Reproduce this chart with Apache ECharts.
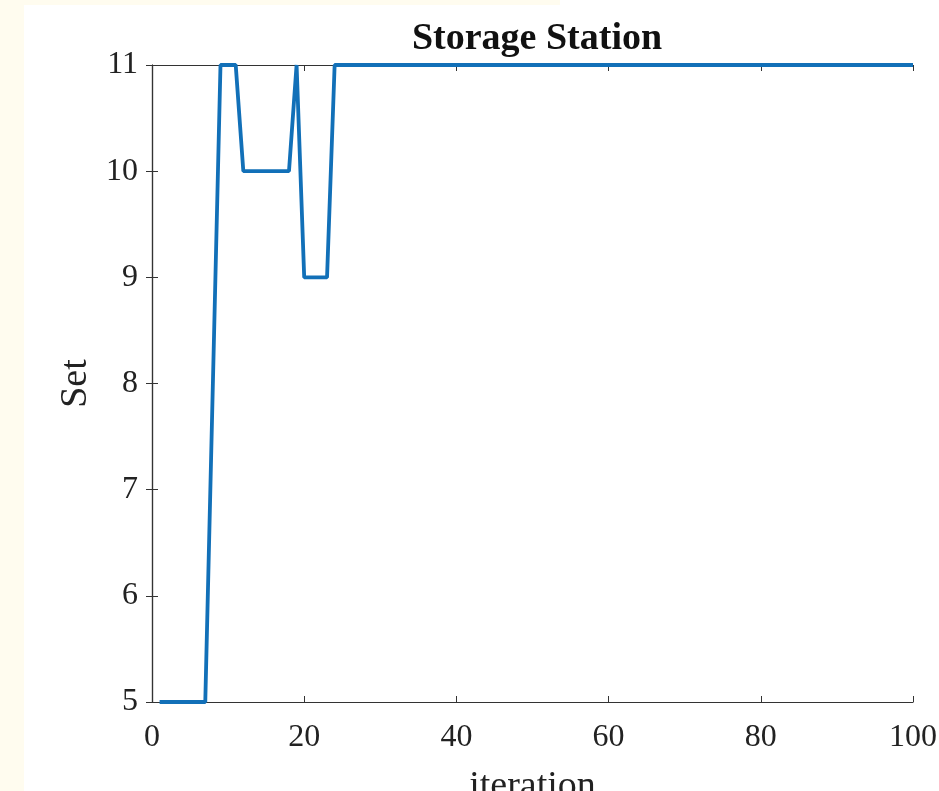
<!DOCTYPE html>
<html>
<head>
<meta charset="utf-8">
<script src="https://cdn.jsdelivr.net/npm/echarts@6/dist/echarts.min.js"></script>
<style>
  html, body { margin: 0; padding: 0; background: #fff; }
  #chart { width: 939px; height: 791px; }
</style>
</head>
<body>
<div id="chart"></div>
<script>
// iteration 1..100 and the "Set" value at each one
const iterations = [];
for (let i = 1; i <= 100; i++) iterations.push(i);
const setValues = [
  5, 5, 5, 5, 5, 5, 5, 8, 11, 11,
  11, 10, 10, 10, 10, 10, 10, 10, 11, 9,
  9, 9, 9, 11, 11, 11, 11, 11, 11, 11,
  11, 11, 11, 11, 11, 11, 11, 11, 11, 11,
  11, 11, 11, 11, 11, 11, 11, 11, 11, 11,
  11, 11, 11, 11, 11, 11, 11, 11, 11, 11,
  11, 11, 11, 11, 11, 11, 11, 11, 11, 11,
  11, 11, 11, 11, 11, 11, 11, 11, 11, 11,
  11, 11, 11, 11, 11, 11, 11, 11, 11, 11,
  11, 11, 11, 11, 11, 11, 11, 11, 11, 11
];
const xTicks = [0, 20, 40, 60, 80, 100];
const yTicks = [5, 6, 7, 8, 9, 10, 11];

const chart = echarts.init(document.getElementById("chart"));

const font = "'Liberation Serif', 'DejaVu Serif', serif";
const axisLine = { show: true, lineStyle: { color: "#333", width: 1.2 } };
const tick = { show: true, inside: true, length: 6, lineStyle: { color: "#333" } };

const option = {
  backgroundColor: "#fff",
  animation: false,
  // pale cream edge of the original screenshot
  graphic: [
    { type: "rect", left: 0, top: 0, shape: { width: 24, height: 791 }, style: { fill: "#fffcef" }, silent: true },
    { type: "rect", left: 0, top: 0, shape: { width: 560, height: 5 }, style: { fill: "#fffcef" }, silent: true }
  ],
  title: {
    text: "Storage Station",
    left: 532,
    top: 15,
    textAlign: "center",
    textStyle: { fontFamily: font, fontWeight: "bold", fontSize: 38, color: "#111" }
  },
  grid: { left: 152, right: 26, top: 65, bottom: 89, containLabel: false, outerBoundsMode: "none" },
  xAxis: [
    {
      type: "value",
      min: 0,
      max: 100,
      interval: 20,
      position: "bottom",
      name: "iteration",
      nameLocation: "middle",
      nameGap: 66,
      nameTextStyle: { fontFamily: font, fontSize: 38, color: "#222" },
      axisLine: axisLine,
      axisTick: tick,
      axisLabel: { fontFamily: font, fontSize: 32, color: "#222", margin: 20,
        formatter: (v) => (xTicks.includes(v) ? String(v) : "") },
      splitLine: { show: false }
    },
    {
      type: "value",
      min: 0,
      max: 100,
      interval: 20,
      position: "top",
      axisLine: axisLine,
      axisTick: tick,
      axisLabel: { show: false },
      splitLine: { show: false }
    }
  ],
  yAxis: [
    {
      type: "value",
      min: 5,
      max: 11,
      interval: 1,
      position: "left",
      name: "Set",
      nameLocation: "middle",
      nameGap: 56,
      nameTextStyle: { fontFamily: font, fontSize: 38, color: "#222" },
      axisLine: axisLine,
      axisTick: tick,
      axisLabel: { fontFamily: font, fontSize: 32, color: "#222", margin: 14,
        formatter: (v) => (yTicks.includes(v) ? String(v) : "") },
      splitLine: { show: false }
    },
    {
      type: "value",
      min: 5,
      max: 11,
      interval: 1,
      position: "right",
      axisLine: axisLine,
      axisTick: tick,
      axisLabel: { show: false },
      splitLine: { show: false }
    }
  ],
  series: [
    {
      type: "line",
      xAxisIndex: 0,
      yAxisIndex: 0,
      data: iterations.map((it, i) => [it, setValues[i]]),
      symbol: "none",
      clip: false,
      lineStyle: { color: "#1270b8", width: 3.8 },
      z: 5
    }
  ]
};

chart.setOption(option);
</script>
</body>
</html>
